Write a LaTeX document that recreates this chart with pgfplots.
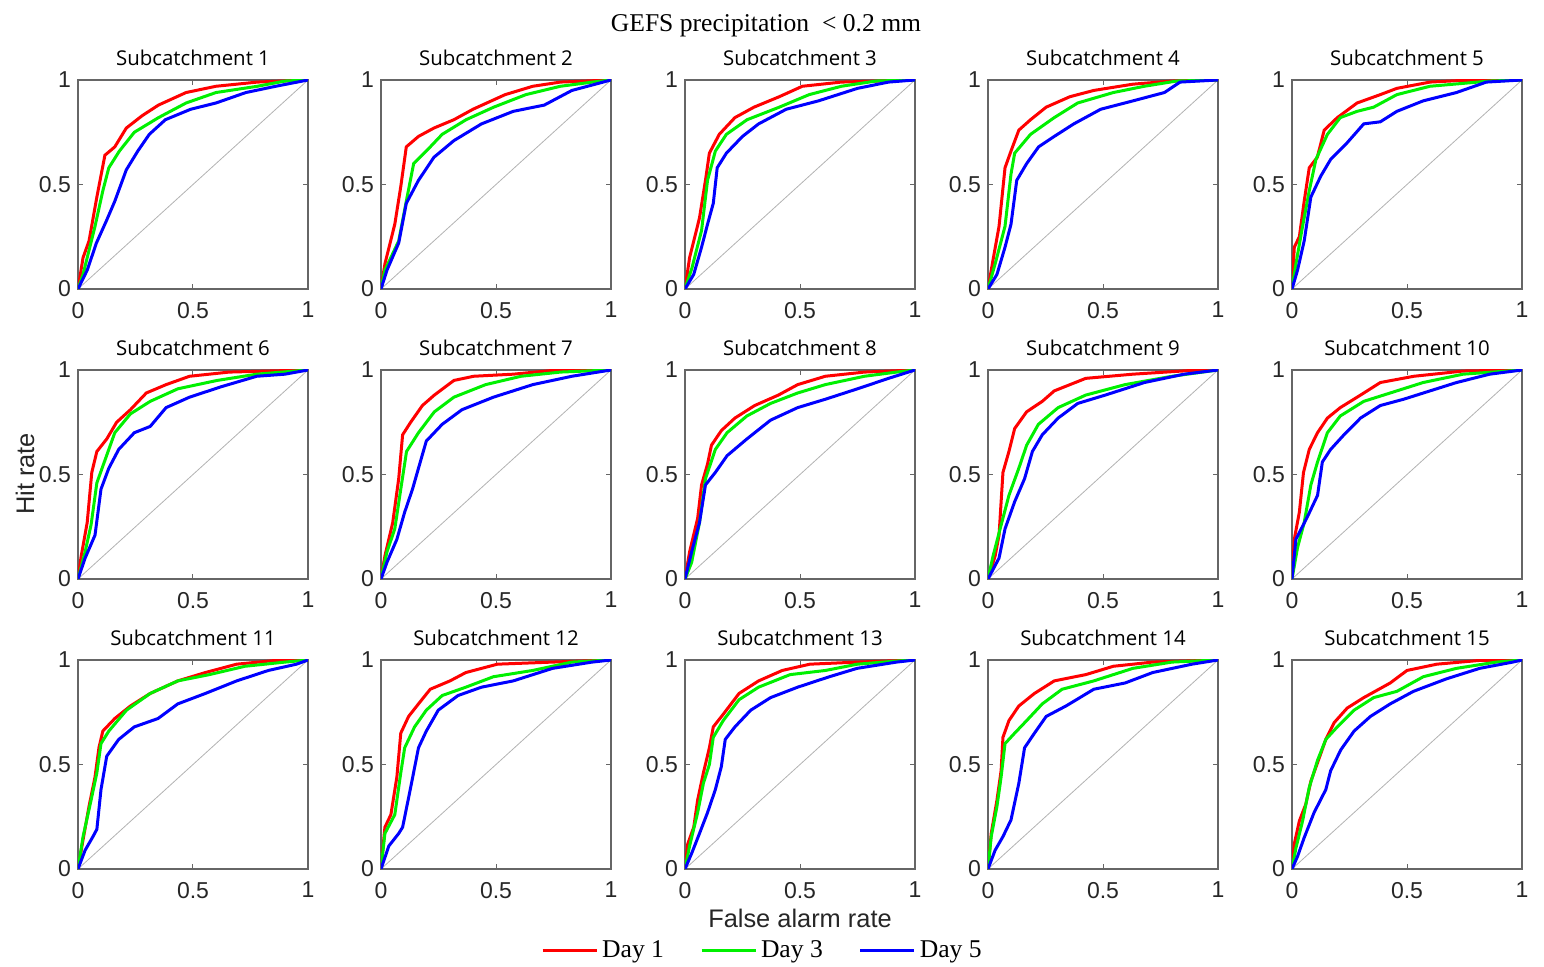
\documentclass[border=0pt]{standalone}
\usepackage{pgfplots}
\pgfplotsset{compat=1.18}
\usepackage{fontspec}
\setmainfont{Liberation Serif}
\newfontfamily\arial{Liberation Sans}
\newfontfamily\opensans{Open Sans}
\definecolor{dred}{RGB}{255,0,0}
\definecolor{dgreen}{RGB}{0,240,0}
\definecolor{dblue}{RGB}{0,0,255}
\pgfplotsset{
  rocax/.style={
    width=115pt, height=104.5pt, scale only axis,
    anchor=north west,
    xmin=0, xmax=1, ymin=0, ymax=1,
    xtick={0,0.5,1}, ytick={0,0.5,1},
    xticklabels={0,0.5,1}, yticklabels={0,0.5,1},
    tick align=inside, major tick length=2.5pt,
    axis line style={draw=black!60, line width=0.6pt},
    every tick/.style={draw=black!60, line width=0.5pt},
    tick label style={font=\arial\fontsize{11.5}{13}\selectfont, text=black!85},
    every x tick label/.append style={yshift=-3pt},
    title style={font=\opensans\fontsize{10.2}{12}\selectfont, at={(0.5,1)}, anchor=south, yshift=-2.5pt},
  },
  d1/.style={draw=dred, line width=1.5pt},
  d3/.style={draw=dgreen, line width=1.5pt},
  d5/.style={draw=dblue, line width=1.5pt},
}
\newcommand{\panel}[7]{%
\begin{axis}[rocax, at={(#1,#2)}, title={#3}, #7]
\addplot[draw=black!30, line width=0.4pt, forget plot] coordinates {(0,0) (1,1)};
\addplot[d1] coordinates {#4};
\addplot[d3] coordinates {#5};
\addplot[d5] coordinates {#6};
\end{axis}}
\begin{document}
\begin{tikzpicture}
\useasboundingbox (0pt,0pt) rectangle (772pt,-483.5pt);
% Row 1
\panel{39pt}{-40pt}{Subcatchment 1}
{(0,0)(0.022,0.15)(0.048,0.23)(0.082,0.44)(0.117,0.64)(0.16,0.68)(0.21,0.77)(0.28,0.83)(0.35,0.88)(0.47,0.94)(0.6,0.97)(0.78,0.99)(1,1)}
{(0,0)(0.022,0.07)(0.074,0.30)(0.108,0.47)(0.134,0.58)(0.18,0.66)(0.245,0.75)(0.35,0.82)(0.47,0.89)(0.6,0.94)(0.78,0.97)(0.9,0.995)(1,1)}
{(0,0)(0.04,0.09)(0.08,0.22)(0.125,0.33)(0.16,0.42)(0.21,0.57)(0.26,0.66)(0.31,0.74)(0.38,0.81)(0.49,0.86)(0.6,0.89)(0.73,0.94)(0.86,0.97)(1,1)}{}
\panel{190.5pt}{-40pt}{Subcatchment 2}
{(0,0)(0.017,0.12)(0.06,0.31)(0.086,0.49)(0.11,0.68)(0.163,0.73)(0.23,0.77)(0.317,0.81)(0.40,0.86)(0.54,0.93)(0.66,0.97)(0.78,0.99)(1,1)}
{(0,0)(0.017,0.09)(0.077,0.23)(0.11,0.42)(0.142,0.60)(0.197,0.66)(0.266,0.74)(0.37,0.81)(0.49,0.87)(0.63,0.93)(0.78,0.97)(0.92,0.99)(1,1)}
{(0,0)(0.026,0.09)(0.077,0.22)(0.11,0.41)(0.163,0.52)(0.23,0.63)(0.317,0.71)(0.437,0.79)(0.575,0.85)(0.71,0.88)(0.83,0.95)(1,1)}{}
\panel{342.5pt}{-40pt}{Subcatchment 3}
{(0,0)(0.02,0.15)(0.063,0.34)(0.089,0.52)(0.106,0.65)(0.149,0.74)(0.217,0.82)(0.30,0.87)(0.41,0.92)(0.51,0.97)(0.68,0.99)(1,1)}
{(0,0)(0.03,0.10)(0.072,0.28)(0.098,0.52)(0.132,0.66)(0.18,0.74)(0.27,0.81)(0.41,0.87)(0.54,0.93)(0.68,0.97)(0.83,0.995)(1,1)}
{(0,0)(0.038,0.07)(0.072,0.20)(0.098,0.31)(0.123,0.41)(0.14,0.58)(0.18,0.65)(0.25,0.73)(0.32,0.79)(0.44,0.86)(0.58,0.90)(0.75,0.96)(0.885,0.99)(1,1)}{}
\panel{494pt}{-40pt}{Subcatchment 4}
{(0,0)(0.022,0.14)(0.048,0.30)(0.074,0.58)(0.1,0.66)(0.134,0.76)(0.185,0.81)(0.253,0.87)(0.356,0.92)(0.46,0.95)(0.63,0.98)(0.80,0.995)(1,1)}
{(0,0)(0.031,0.12)(0.074,0.30)(0.1,0.55)(0.116,0.65)(0.185,0.74)(0.288,0.82)(0.39,0.89)(0.545,0.94)(0.68,0.97)(0.82,0.995)(1,1)}
{(0,0)(0.039,0.07)(0.074,0.20)(0.1,0.31)(0.125,0.52)(0.168,0.60)(0.22,0.68)(0.288,0.73)(0.373,0.79)(0.49,0.86)(0.63,0.90)(0.767,0.94)(0.835,0.99)(1,1)}{}
\panel{646pt}{-40pt}{Subcatchment 5}
{(0,0)(0.01,0.2)(0.032,0.25)(0.053,0.42)(0.075,0.58)(0.11,0.63)(0.14,0.76)(0.197,0.82)(0.283,0.89)(0.384,0.93)(0.456,0.96)(0.6,0.99)(0.74,0.998)(1,1)}
{(0,0)(0.017,0.12)(0.046,0.30)(0.075,0.47)(0.104,0.62)(0.154,0.74)(0.21,0.82)(0.283,0.85)(0.355,0.87)(0.456,0.93)(0.6,0.97)(0.86,0.995)(1,1)}
{(0,0)(0.024,0.09)(0.053,0.23)(0.082,0.44)(0.125,0.54)(0.168,0.62)(0.24,0.70)(0.312,0.79)(0.384,0.80)(0.456,0.85)(0.57,0.90)(0.715,0.94)(0.845,0.99)(1,1)}{}
% Row 2
\panel{39pt}{-185pt}{Subcatchment 6}
{(0,0)(0.014,0.11)(0.04,0.27)(0.06,0.51)(0.082,0.61)(0.125,0.67)(0.168,0.75)(0.228,0.81)(0.297,0.89)(0.383,0.93)(0.485,0.97)(0.657,0.99)(1,1)}
{(0,0)(0.031,0.13)(0.057,0.26)(0.082,0.46)(0.108,0.54)(0.16,0.70)(0.228,0.79)(0.314,0.85)(0.434,0.91)(0.605,0.95)(0.777,0.98)(1,1)}
{(0,0)(0.031,0.10)(0.074,0.21)(0.1,0.43)(0.134,0.53)(0.177,0.62)(0.245,0.70)(0.314,0.73)(0.383,0.82)(0.485,0.87)(0.623,0.92)(0.777,0.97)(0.9,0.98)(1,1)}{}
\panel{190.5pt}{-185pt}{Subcatchment 7}
{(0,0)(0.017,0.11)(0.051,0.27)(0.077,0.48)(0.094,0.69)(0.129,0.75)(0.18,0.83)(0.232,0.88)(0.317,0.95)(0.403,0.97)(0.575,0.98)(0.746,0.998)(1,1)}
{(0,0)(0.026,0.13)(0.06,0.24)(0.086,0.43)(0.111,0.61)(0.163,0.70)(0.232,0.80)(0.317,0.87)(0.455,0.93)(0.609,0.97)(0.78,0.99)(1,1)}
{(0,0)(0.026,0.08)(0.069,0.19)(0.103,0.32)(0.137,0.43)(0.163,0.53)(0.197,0.66)(0.266,0.74)(0.352,0.81)(0.489,0.87)(0.66,0.93)(0.83,0.97)(1,1)}{}
\panel{342.5pt}{-185pt}{Subcatchment 8}
{(0,0)(0.02,0.13)(0.055,0.29)(0.072,0.45)(0.098,0.55)(0.115,0.64)(0.158,0.71)(0.217,0.77)(0.303,0.83)(0.406,0.88)(0.49,0.93)(0.61,0.97)(0.78,0.99)(1,1)}
{(0,0)(0.029,0.08)(0.063,0.27)(0.089,0.48)(0.132,0.62)(0.183,0.70)(0.269,0.78)(0.372,0.84)(0.49,0.89)(0.61,0.93)(0.78,0.97)(0.92,0.99)(1,1)}
{(0,0)(0.029,0.13)(0.063,0.27)(0.089,0.45)(0.132,0.51)(0.183,0.59)(0.269,0.67)(0.372,0.76)(0.49,0.82)(0.61,0.86)(0.75,0.91)(0.885,0.96)(1,1)}{}
\panel{494pt}{-185pt}{Subcatchment 9}
{(0,0)(0.031,0.11)(0.048,0.21)(0.065,0.51)(0.091,0.61)(0.116,0.72)(0.168,0.80)(0.236,0.85)(0.288,0.90)(0.425,0.96)(0.63,0.98)(0.887,0.998)(1,1)}
{(0,0)(0.022,0.11)(0.048,0.22)(0.091,0.40)(0.134,0.53)(0.168,0.64)(0.219,0.74)(0.305,0.82)(0.425,0.88)(0.596,0.93)(0.8,0.97)(1,1)}
{(0,0)(0.048,0.10)(0.074,0.24)(0.116,0.37)(0.159,0.48)(0.193,0.61)(0.236,0.69)(0.305,0.77)(0.39,0.84)(0.51,0.88)(0.68,0.94)(0.853,0.98)(1,1)}{}
\panel{646pt}{-185pt}{Subcatchment 10}
{(0,0)(0.01,0.19)(0.032,0.32)(0.05,0.51)(0.075,0.62)(0.111,0.70)(0.154,0.77)(0.21,0.82)(0.298,0.88)(0.384,0.94)(0.53,0.97)(0.744,0.995)(1,1)}
{(0,0)(0.024,0.15)(0.053,0.27)(0.082,0.45)(0.111,0.56)(0.154,0.70)(0.21,0.78)(0.312,0.85)(0.427,0.89)(0.57,0.94)(0.744,0.98)(1,1)}
{(0,0)(0.017,0.19)(0.068,0.30)(0.111,0.40)(0.132,0.56)(0.168,0.62)(0.226,0.69)(0.298,0.77)(0.384,0.83)(0.485,0.86)(0.6,0.90)(0.715,0.94)(0.86,0.98)(1,1)}{}
% Row 3
\panel{39pt}{-330pt}{Subcatchment 11}
{(0,0)(0.022,0.14)(0.048,0.30)(0.074,0.44)(0.091,0.58)(0.108,0.66)(0.16,0.72)(0.228,0.78)(0.314,0.84)(0.434,0.90)(0.554,0.94)(0.69,0.98)(0.86,0.998)(1,1)}
{(0,0)(0.022,0.155)(0.057,0.33)(0.082,0.46)(0.1,0.60)(0.134,0.66)(0.211,0.76)(0.314,0.84)(0.434,0.90)(0.571,0.93)(0.726,0.97)(0.9,0.99)(1,1)}
{(0,0)(0.031,0.09)(0.065,0.155)(0.082,0.19)(0.1,0.38)(0.125,0.54)(0.177,0.62)(0.245,0.68)(0.348,0.72)(0.434,0.79)(0.554,0.84)(0.69,0.90)(0.828,0.95)(0.95,0.98)(1,1)}{}
\panel{190.5pt}{-330pt}{Subcatchment 12}
{(0,0)(0.017,0.20)(0.043,0.26)(0.069,0.44)(0.086,0.65)(0.12,0.73)(0.163,0.79)(0.214,0.86)(0.30,0.90)(0.369,0.94)(0.506,0.98)(0.746,0.99)(1,1)}
{(0,0)(0.017,0.17)(0.06,0.26)(0.086,0.46)(0.103,0.58)(0.146,0.68)(0.197,0.76)(0.266,0.83)(0.369,0.87)(0.489,0.92)(0.66,0.95)(0.83,0.99)(1,1)}
{(0,0)(0.034,0.11)(0.077,0.17)(0.094,0.20)(0.129,0.39)(0.163,0.58)(0.197,0.66)(0.249,0.76)(0.335,0.83)(0.437,0.87)(0.575,0.90)(0.746,0.96)(0.918,0.99)(1,1)}{}
\panel{342.5pt}{-330pt}{Subcatchment 13}
{(0,0)(0.012,0.12)(0.038,0.20)(0.055,0.33)(0.08,0.46)(0.106,0.58)(0.123,0.68)(0.166,0.74)(0.235,0.84)(0.32,0.90)(0.423,0.95)(0.543,0.98)(0.75,0.99)(1,1)}
{(0,0)(0.02,0.11)(0.055,0.27)(0.08,0.41)(0.106,0.50)(0.123,0.63)(0.166,0.71)(0.235,0.81)(0.32,0.87)(0.457,0.93)(0.611,0.95)(0.75,0.98)(0.92,0.995)(1,1)}
{(0,0)(0.029,0.075)(0.063,0.17)(0.098,0.27)(0.132,0.38)(0.158,0.49)(0.175,0.62)(0.217,0.68)(0.286,0.76)(0.372,0.82)(0.49,0.87)(0.628,0.92)(0.748,0.96)(0.92,0.99)(1,1)}
{legend entries={Day 1,Day 3,Day 5}, legend columns=3,
 legend style={at={(0.341,-0.39)}, anchor=center, draw=none, fill=none,
   font=\fontsize{12.8}{14}\selectfont, inner sep=0pt,
   /tikz/every even column/.append style={column sep=16pt}},
 legend image code/.code={\draw[#1] (0pt,0pt) -- (27pt,0pt);}}
\panel{494pt}{-330pt}{Subcatchment 14}
{(0,0)(0.014,0.17)(0.039,0.33)(0.057,0.47)(0.065,0.63)(0.091,0.71)(0.134,0.78)(0.202,0.84)(0.288,0.90)(0.425,0.93)(0.545,0.97)(0.716,0.99)(1,1)}
{(0,0)(0.014,0.155)(0.039,0.30)(0.057,0.44)(0.074,0.60)(0.116,0.65)(0.168,0.71)(0.236,0.79)(0.322,0.86)(0.46,0.90)(0.63,0.96)(0.8,0.99)(1,1)}
{(0,0)(0.031,0.09)(0.065,0.155)(0.1,0.235)(0.134,0.41)(0.159,0.58)(0.202,0.65)(0.253,0.73)(0.339,0.78)(0.46,0.86)(0.596,0.89)(0.716,0.94)(0.887,0.98)(1,1)}{}
\panel{646pt}{-330pt}{Subcatchment 15}
{(0,0)(0.01,0.12)(0.032,0.23)(0.06,0.31)(0.082,0.42)(0.118,0.53)(0.147,0.62)(0.183,0.70)(0.24,0.77)(0.312,0.82)(0.427,0.89)(0.5,0.95)(0.63,0.98)(0.816,0.998)(1,1)}
{(0,0)(0.017,0.10)(0.046,0.23)(0.075,0.39)(0.111,0.52)(0.147,0.62)(0.197,0.68)(0.27,0.76)(0.355,0.82)(0.456,0.85)(0.571,0.92)(0.715,0.96)(0.888,0.99)(1,1)}
{(0,0)(0.024,0.06)(0.053,0.15)(0.096,0.27)(0.147,0.38)(0.168,0.47)(0.212,0.57)(0.27,0.66)(0.341,0.73)(0.427,0.79)(0.528,0.85)(0.672,0.91)(0.816,0.96)(0.96,0.99)(1,1)}{}
% Texts
\node[font=\fontsize{12.8}{14}\selectfont, inner sep=0pt] at (383pt,-13pt) {GEFS precipitation\ \ < 0.2 mm};
\node[font=\arial\fontsize{12.7}{14}\selectfont, text=black!85, rotate=90, inner sep=0pt] at (12.5pt,-237pt) {Hit rate};
\node[font=\arial\fontsize{12.7}{14}\selectfont, text=black!85, inner sep=0pt] at (400pt,-459pt) {False alarm rate};
\end{tikzpicture}
\end{document}
